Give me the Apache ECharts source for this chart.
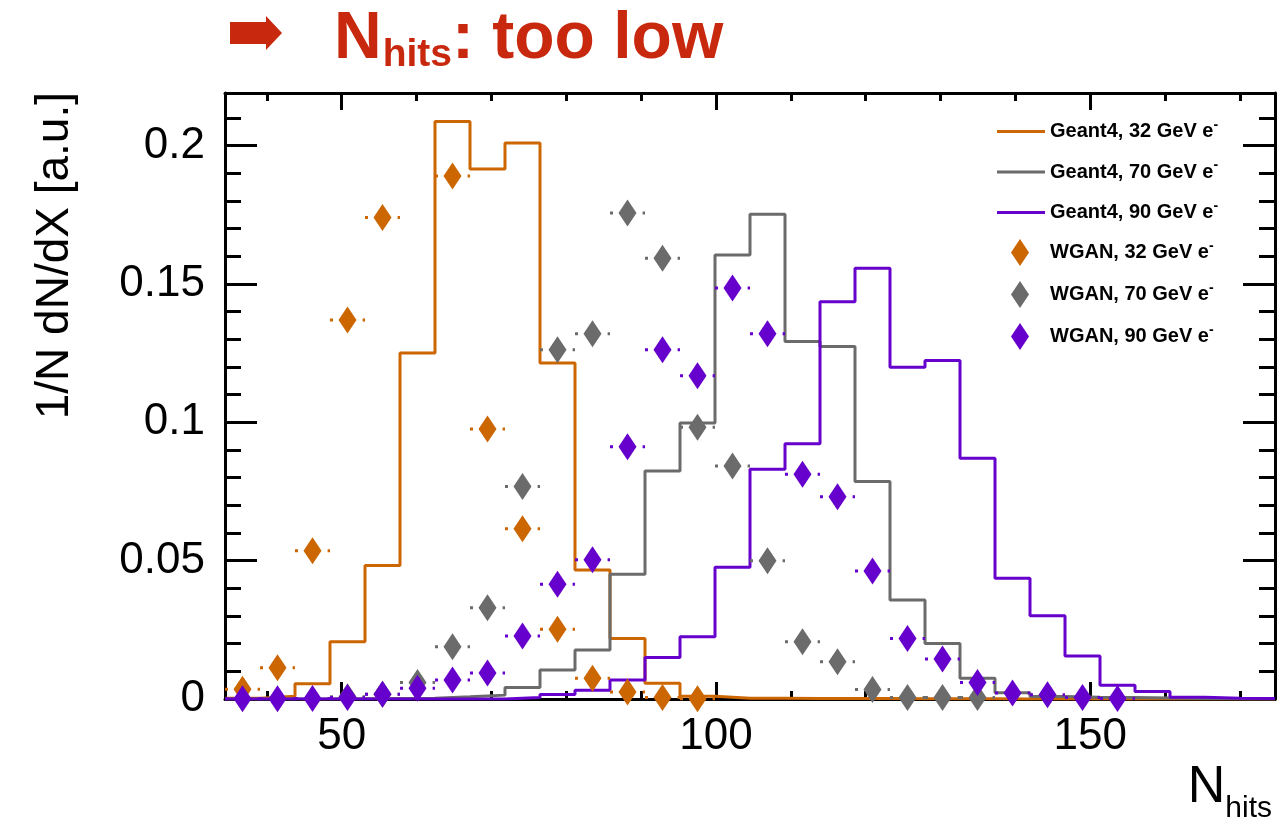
<!DOCTYPE html>
<html>
<head>
<meta charset="utf-8">
<script src="https://cdn.jsdelivr.net/npm/echarts@6/dist/echarts.min.js"></script>
<style>
  html, body { margin: 0; padding: 0; background: #ffffff; }
  #chart { width: 1283px; height: 823px; }
</style>
</head>
<body>
<div id="chart"></div>
<script>
// Histogram binning: 30 uniform bins over the N_hits range
const HIST_MIN = 34.4;
const HIST_MAX = 174.7;
const Y_MAX = 0.219;

// Axis ticks
const xMajorTicks = [50, 100, 150];
const xMinorTicks = [40, 60, 70, 80, 90, 110, 120, 130, 140, 160, 170];
const yMajorTicks = [0, 0.05, 0.1, 0.15, 0.2];
const yMinorTicks = [0.01, 0.02, 0.03, 0.04, 0.06, 0.07, 0.08, 0.09, 0.11, 0.12, 0.13, 0.14,
                     0.16, 0.17, 0.18, 0.19, 0.21];

// Series names
const seriesNames = [
  'Geant4, 32 GeV e-', 'Geant4, 70 GeV e-', 'Geant4, 90 GeV e-',
  'WGAN, 32 GeV e-', 'WGAN, 70 GeV e-', 'WGAN, 90 GeV e-'
];

// Geant4 reference histograms, 1/N dN/dX per bin
const geant32 = [0.0003, 0.001, 0.0055, 0.0207, 0.0482, 0.125, 0.2087, 0.1915, 0.2009, 0.1214,
                 0.0466, 0.0219, 0.0057, 0.001, 0.0003, 0.0003, 0.0002, 0.0002, 0.0002, 0.0001,
                 0.0001, 0.0001, 0, 0, 0, 0, 0, 0, 0, 0];
const geant70 = [0, 0, 0, 0.0001, 0.0002, 0.0003, 0.0008, 0.0014, 0.0042, 0.0105,
                 0.0177, 0.0451, 0.0824, 0.0997, 0.1605, 0.1752, 0.1292, 0.1274, 0.0786, 0.0358,
                 0.0201, 0.0075, 0.0023, 0.0009, 0.0006, 0.0005, 0.0004, 0.0002, 0.0001, 0];
const geant90 = [0, 0, 0, 0, 0, 0, 0, 0, 0.0005, 0.0016,
                 0.0032, 0.0069, 0.015, 0.0225, 0.0476, 0.083, 0.0922, 0.1436, 0.1557, 0.1199,
                 0.1223, 0.087, 0.0436, 0.0301, 0.0155, 0.005, 0.0027, 0.0006, 0.0003, 0.0002];

// WGAN generated showers (null = empty bin, no marker)
const wgan32 = [0.0035, 0.0113, 0.0536, 0.137, 0.174, 0.237, 0.189, 0.0976, 0.0615, 0.0252,
                0.0075, 0.0025, 0.0005, 0.0001, null, null, null, null, null, null,
                null, null, null, null, null, null, null, null, null, null];
const wgan70 = [null, null, null, 0.0008, 0.0017, 0.006, 0.0189, 0.033, 0.0768, 0.1262,
                0.132, 0.1756, 0.1593, 0.0982, 0.0842, 0.05, 0.0207, 0.0135, 0.0034, 0.0005,
                0.0005, 0.0005, null, null, null, null, null, null, null, null];
const wgan90 = [0.0001, 0.0001, 0.0002, 0.0005, 0.0017, 0.0039, 0.0069, 0.0094, 0.0228, 0.0415,
                0.0503, 0.0912, 0.1262, 0.1168, 0.1485, 0.132, 0.0812, 0.0731, 0.0463, 0.0219,
                0.0145, 0.006, 0.0022, 0.0015, 0.0005, 0.0002, null, null, null, null];

const COLORS = ['#cc6600', '#6b6b6b', '#6600cc'];
const TITLE_RED = '#c8280e';
const FONT = '"Liberation Sans", Arial, Helvetica, sans-serif';

const binWidth = (HIST_MAX - HIST_MIN) / geant32.length;
const binLow = i => HIST_MIN + i * binWidth;
const binCenter = i => HIST_MIN + (i + 0.5) * binWidth;

// Step outline through the bin edges
function histOutline(values) {
  const pts = values.map((v, i) => [binLow(i), v]);
  pts.push([HIST_MAX, values[values.length - 1]]);
  return pts;
}

// Markers at bin centres; entries above the frame are not drawn
function markerPoints(values) {
  const pts = [];
  values.forEach((v, i) => {
    if (v !== null && v <= Y_MAX) pts.push([binCenter(i), v]);
  });
  return pts;
}

// Dotted horizontal bar spanning the bin width
function binBar(color) {
  return function (params, api) {
    const x = api.value(0), y = api.value(1);
    const a = api.coord([x - binWidth / 2, y]);
    const b = api.coord([x + binWidth / 2, y]);
    return {
      type: 'line',
      shape: { x1: a[0], y1: a[1], x2: b[0], y2: b[1] },
      style: { stroke: color, lineWidth: 3, lineDash: [3, 13.3] }
    };
  };
}

const series = [];
[geant32, geant70, geant90].forEach((vals, k) => {
  series.push({
    name: seriesNames[k], type: 'line', step: 'end', data: histOutline(vals),
    symbol: 'none', showSymbol: false, silent: true, z: 2,
    lineStyle: { color: COLORS[k], width: 3 }, itemStyle: { color: COLORS[k] }
  });
});
[wgan32, wgan70, wgan90].forEach((vals, k) => {
  const pts = markerPoints(vals);
  series.push({
    type: 'custom', renderItem: binBar(COLORS[k]), data: pts,
    silent: true, clip: false, z: 3 + 2 * k
  });
  series.push({
    name: seriesNames[3 + k], type: 'scatter', symbol: 'diamond', symbolSize: [18, 27],
    data: pts, clip: false, silent: true, z: 4 + 2 * k,
    itemStyle: { color: COLORS[k], opacity: 1 }
  });
});

const black = { color: '#000', width: 3 };
function xAxisDef(position, ticks, len, labels, line) {
  return {
    type: 'value', position, min: HIST_MIN, max: HIST_MAX,
    axisLine: { show: line, onZero: false, lineStyle: black },
    axisTick: { show: true, inside: true, length: len, customValues: ticks, lineStyle: black },
    axisLabel: labels
      ? { show: true, customValues: ticks, fontSize: 44, color: '#000', fontFamily: FONT, margin: 16 }
      : { show: false },
    splitLine: { show: false }
  };
}
function yAxisDef(position, ticks, len, labels, line) {
  return {
    type: 'value', position, min: 0, max: Y_MAX,
    axisLine: { show: line, onZero: false, lineStyle: black },
    axisTick: { show: true, inside: true, length: len, customValues: ticks, lineStyle: black },
    axisLabel: labels
      ? { show: true, customValues: ticks, fontSize: 44, color: '#000', fontFamily: FONT, margin: 20 }
      : { show: false },
    splitLine: { show: false }
  };
}

function legendText(name) {
  return '{t|' + name.slice(0, -1) + '}{sup|-}';
}
function legendRich(pad) {
  return {
    t: { fontSize: 20, lineHeight: 27, fontWeight: 'bold', color: '#000', fontFamily: FONT, padding: [0, 0, 0, pad] },
    sup: { fontSize: 14, lineHeight: 14, fontWeight: 'bold', color: '#000', fontFamily: FONT, verticalAlign: 'top' }
  };
}

// Text helpers for the title and axis names
const ctx = document.createElement('canvas').getContext('2d');
function textWidth(txt, font) { ctx.font = font; return ctx.measureText(txt).width; }

const titleBig = 'bold 66px ' + FONT;
const titleSmall = 'bold 39px ' + FONT;
const tX0 = 334;
const tX1 = tX0 + textWidth('N', titleBig) + 1;
const tX2 = tX1 + textWidth('hits', titleSmall);

const axBig = '52px ' + FONT;
const axSmall = '30px ' + FONT;
const axRight = 1272;
const axNRight = axRight - textWidth('hits', axSmall);

function txt(x, y, text, font, fill, align, extra) {
  return Object.assign({
    type: 'text', x, y, silent: true,
    style: { text, font, fill, align, verticalAlign: 'middle', textAlign: align, textVerticalAlign: 'middle' }
  }, extra || {});
}

const lineIcon = 'path://M0,0H48V3H0Z';

const option = {
  animation: false,
  backgroundColor: '#ffffff',
  textStyle: { fontFamily: FONT },
  grid: { left: 225, right: 8, top: 93, bottom: 124, containLabel: false },
  xAxis: [
    xAxisDef('bottom', xMajorTicks, 17, true, true),
    xAxisDef('bottom', xMinorTicks, 8, false, false),
    xAxisDef('top', xMajorTicks, 17, false, true),
    xAxisDef('top', xMinorTicks, 8, false, false)
  ],
  yAxis: [
    yAxisDef('left', yMajorTicks, 32, true, true),
    yAxisDef('left', yMinorTicks, 16, false, false),
    yAxisDef('right', yMajorTicks, 32, false, true),
    yAxisDef('right', yMinorTicks, 16, false, false)
  ],
  legend: [
    {
      data: seriesNames.slice(0, 3).map(n => ({ name: n, icon: lineIcon })),
      orient: 'vertical', left: 992, top: 113,
      itemWidth: 48, itemHeight: 27, itemGap: 17, selectedMode: false,
      formatter: legendText, textStyle: { rich: legendRich(0) }
    },
    {
      data: seriesNames.slice(3).map(n => ({ name: n, icon: 'diamond' })),
      orient: 'vertical', left: 1006, top: 234,
      itemWidth: 18, itemHeight: 27, itemGap: 15, selectedMode: false,
      formatter: legendText, textStyle: { rich: legendRich(16) }
    }
  ],
  graphic: [
    {
      type: 'polygon', silent: true,
      shape: { points: [[230, 22], [266, 22], [266, 16], [282, 33], [266, 50], [266, 44], [230, 44]] },
      style: { fill: TITLE_RED }
    },
    txt(tX0, 40, 'N', titleBig, TITLE_RED, 'left'),
    txt(tX1, 55, 'hits', titleSmall, TITLE_RED, 'left'),
    txt(tX2, 40, ': too low', titleBig, TITLE_RED, 'left'),
    txt(55, 92, '1/N dN/dX [a.u.]', '46px ' + FONT, '#000', 'right', { rotation: Math.PI / 2 }),
    txt(axNRight, 788, 'N', axBig, '#000', 'right'),
    txt(axRight, 809, 'hits', axSmall, '#000', 'right')
  ],
  series
};

const chart = echarts.init(document.getElementById('chart'), null, { renderer: 'canvas' });
chart.setOption(option);
</script>
</body>
</html>
